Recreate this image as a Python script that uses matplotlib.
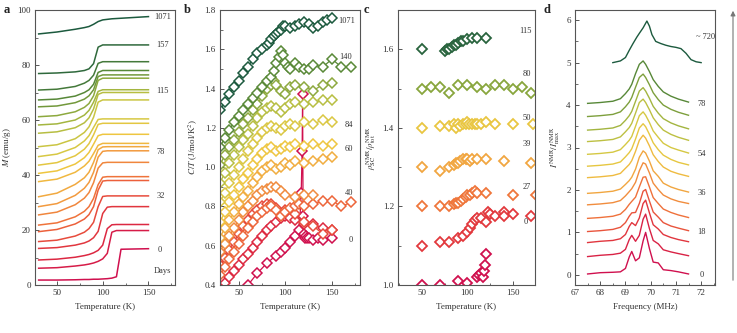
import numpy as np
import matplotlib
matplotlib.use('Agg')
import matplotlib.pyplot as plt
from matplotlib.colors import LinearSegmentedColormap
from matplotlib.patches import FancyArrowPatch
from matplotlib.ticker import AutoMinorLocator, MultipleLocator

plt.rcParams['font.family'] = ['Liberation Serif', 'DejaVu Serif']
plt.rcParams['mathtext.fontset'] = 'stix'
plt.rcParams['font.size'] = 6.5

# colour ramp: fresh sample (red) -> aged sample (dark green)
cmap = LinearSegmentedColormap.from_list('age', [
    (0.00, '#d0104e'), (0.12, '#e0303e'), (0.25, '#ee6a3a'), (0.38, '#f2a040'),
    (0.50, '#eec640'), (0.62, '#d0c844'), (0.74, '#a0b440'), (0.86, '#5a8a38'),
    (1.00, '#1c5a3e')])

# ---------------- panel a: magnetisation vs temperature ----------------
a_temps = [30, 50, 70, 80, 85, 90, 95, 100, 105, 110, 115, 120, 150]
a_curves = [
    [1.8, 1.8, 1.9, 2.0, 2.0, 2.1, 2.1, 2.2, 2.3, 2.5, 3.0, 13.0, 13.2],
    [6.1, 6.3, 6.9, 7.3, 7.6, 8.0, 8.6, 9.5, 11.5, 19.2, 19.8, 19.8, 19.8],
    [9.1, 9.4, 10.1, 10.7, 11.1, 11.7, 12.6, 14.5, 20.5, 21.9, 22.0, 22.0, 22.0],
    [13.3, 13.6, 14.5, 15.3, 16.0, 17.2, 19.5, 26.0, 28.3, 28.5, 28.5, 28.5, 28.5],
    [15.8, 16.3, 17.8, 19.2, 20.5, 22.8, 28.5, 32.2, 32.4, 32.4, 32.4, 32.4, 32.4],
    [19.4, 20.2, 22.2, 24.0, 25.6, 28.5, 34.5, 37.8, 38.0, 38.0, 38.0, 38.0, 38.0],
    [21.8, 22.6, 24.8, 26.8, 28.5, 31.5, 36.5, 39.2, 39.4, 39.4, 39.4, 39.4, 39.4],
    [25.5, 26.5, 29.2, 31.6, 33.6, 37.2, 42.5, 44.4, 44.6, 44.6, 44.6, 44.6, 44.6],
    [28.5, 29.6, 32.6, 35.2, 37.3, 41.0, 46.5, 48.6, 48.8, 48.8, 48.8, 48.8, 48.8],
    [32.1, 33.4, 36.6, 39.0, 41.0, 44.6, 49.2, 50.2, 50.3, 50.3, 50.3, 50.3, 50.3],
    [37.6, 38.5, 41.0, 43.3, 45.0, 47.8, 50.8, 51.5, 51.5, 51.5, 51.5, 51.5, 51.5],
    [40.6, 41.5, 44.0, 46.3, 48.2, 51.2, 54.3, 54.8, 54.8, 54.8, 54.8, 54.8, 54.8],
    [43.6, 44.5, 47.0, 49.4, 51.4, 54.6, 58.4, 58.8, 58.8, 58.8, 58.8, 58.8, 58.8],
    [46.7, 47.6, 50.0, 52.4, 54.3, 57.3, 60.2, 60.4, 60.4, 60.4, 60.4, 60.4, 60.4],
    [50.3, 51.0, 53.2, 55.5, 57.5, 61.0, 66.5, 67.3, 67.3, 67.3, 67.3, 67.3, 67.3],
    [55.2, 55.7, 57.2, 59.0, 60.8, 64.0, 69.3, 70.0, 70.0, 70.0, 70.0, 70.0, 70.0],
    [58.2, 58.6, 60.0, 61.8, 63.5, 66.5, 70.4, 71.0, 71.0, 71.0, 71.0, 71.0, 71.0],
    [61.2, 61.6, 63.0, 64.6, 66.0, 68.8, 74.4, 75.2, 75.2, 75.2, 75.2, 75.2, 75.2],
    [64.8, 65.1, 66.3, 67.6, 68.8, 71.0, 75.8, 76.4, 76.4, 76.4, 76.4, 76.4, 76.4],
    [67.3, 67.6, 68.7, 70.0, 71.0, 73.0, 77.3, 78.0, 78.0, 78.0, 78.0, 78.0, 78.0],
    [70.9, 71.2, 72.2, 73.4, 74.4, 76.3, 80.6, 81.2, 81.2, 81.2, 81.2, 81.2, 81.2],
    [76.9, 77.1, 77.5, 78.0, 78.6, 80.5, 86.5, 87.3, 87.3, 87.3, 87.3, 87.3, 87.3],
    [91.3, 92.0, 93.0, 93.6, 94.0, 94.8, 95.8, 96.4, 96.6, 96.8, 96.9, 97.0, 97.6],
]
a_labels = ['1071', '157', '115', '78', '32', '0', 'Days']
a_label_pos = [(156, 97.5), (158, 87.3), (159, 70.6), (159, 48.5), (159, 32.3), (160, 12.7), (156, 5.2)]

# ---------------- panel b: specific heat ----------------
b_temps = [
    [60, 70, 80, 90, 95, 100, 105, 110, 115, 117, 118, 118.5, 119, 120, 121, 122, 123, 125, 130, 135, 140, 150],
    [35, 40, 45, 50, 55, 60, 65, 70, 75, 80, 85, 90, 95, 100, 105, 110, 120, 130, 140, 150],
    [30, 35, 40, 45, 50, 55, 60, 65, 70, 75, 80, 85, 90, 95, 100, 110, 120, 130, 140, 150],
    [30, 35, 40, 45, 50, 55, 60, 65, 70, 75, 80, 85, 90, 95, 100, 105, 110, 115, 120, 130, 140, 150, 160, 170],
    [30, 35, 40, 45, 50, 55, 60, 65, 70, 75, 80, 85, 90, 95, 100, 110, 120, 130],
    [30, 35, 40, 45, 50, 55, 60, 65, 70, 75, 80, 85, 90, 95, 100, 105, 110, 120, 130, 140, 150],
    [30, 35, 40, 45, 50, 55, 60, 65, 70, 75, 80, 85, 90, 95, 100, 105, 110, 120, 130, 140, 150],
    [30, 35, 40, 45, 50, 55, 60, 65, 70, 75, 80, 85, 90, 95, 100, 105, 110, 120, 130, 140, 150],
    [30, 35, 40, 45, 50, 55, 60, 65, 70, 75, 80, 85, 90, 95, 100, 105, 110, 120, 130, 140, 150],
    [30, 35, 40, 45, 50, 55, 60, 65, 70, 75, 80, 85, 88, 90, 95, 100, 105, 110, 120, 130, 140, 150],
    [30, 35, 40, 45, 50, 55, 60, 65, 70, 75, 80, 85, 88, 90, 93, 95, 97, 100, 103, 105, 110, 115, 120, 125, 130, 140, 150, 160, 170],
    [30, 35, 40, 45, 50, 55, 60, 65, 70, 75, 80, 82, 85, 88, 90, 92, 95, 98, 100, 105, 110, 115, 120, 125, 130, 135, 140, 145, 150],
]
b_values = [
    [0.40, 0.46, 0.51, 0.55, 0.57, 0.59, 0.62, 0.65, 0.68, 0.87, 1.08, 1.37, 0.75, 0.66, 0.64, 0.65, 0.64, 0.64, 0.63, 0.64, 0.63, 0.64],
    [0.41, 0.44, 0.47, 0.50, 0.53, 0.56, 0.59, 0.62, 0.65, 0.68, 0.70, 0.72, 0.74, 0.75, 0.74, 0.73, 0.71, 0.71, 0.69, 0.68],
    [0.50, 0.54, 0.58, 0.62, 0.66, 0.70, 0.73, 0.76, 0.78, 0.80, 0.81, 0.81, 0.79, 0.76, 0.78, 0.76, 0.72, 0.70, 0.66, 0.68],
    [0.45, 0.49, 0.53, 0.57, 0.61, 0.65, 0.69, 0.72, 0.75, 0.77, 0.79, 0.80, 0.78, 0.75, 0.77, 0.79, 0.80, 0.81, 0.80, 0.81, 0.83, 0.83, 0.80, 0.82],
    [0.57, 0.61, 0.65, 0.69, 0.73, 0.77, 0.80, 0.83, 0.86, 0.88, 0.89, 0.90, 0.90, 0.88, 0.86, 0.85, 0.86, 0.86],
    [0.64, 0.69, 0.73, 0.77, 0.81, 0.85, 0.88, 0.92, 0.95, 0.98, 1.00, 1.01, 0.99, 1.00, 1.02, 1.01, 1.03, 1.02, 1.03, 1.04, 1.05],
    [0.72, 0.77, 0.82, 0.86, 0.90, 0.94, 0.97, 1.01, 1.04, 1.07, 1.09, 1.10, 1.08, 1.09, 1.11, 1.10, 1.12, 1.11, 1.12, 1.11, 1.12],
    [0.82, 0.87, 0.92, 0.96, 1.00, 1.04, 1.08, 1.12, 1.15, 1.18, 1.20, 1.21, 1.20, 1.19, 1.21, 1.22, 1.21, 1.23, 1.22, 1.24, 1.23],
    [0.92, 0.97, 1.02, 1.06, 1.10, 1.14, 1.17, 1.21, 1.25, 1.28, 1.30, 1.31, 1.30, 1.28, 1.30, 1.32, 1.33, 1.32, 1.33, 1.34, 1.34],
    [1.01, 1.06, 1.10, 1.14, 1.18, 1.22, 1.25, 1.29, 1.32, 1.36, 1.40, 1.42, 1.44, 1.42, 1.39, 1.37, 1.41, 1.42, 1.41, 1.39, 1.42, 1.43],
    [1.10, 1.15, 1.19, 1.23, 1.26, 1.29, 1.32, 1.35, 1.38, 1.41, 1.44, 1.46, 1.49, 1.53, 1.56, 1.59, 1.57, 1.53, 1.51, 1.50, 1.53, 1.51, 1.50, 1.50, 1.52, 1.51, 1.55, 1.51, 1.51],
    [1.29, 1.33, 1.37, 1.41, 1.44, 1.48, 1.51, 1.55, 1.58, 1.60, 1.62, 1.63, 1.65, 1.67, 1.68, 1.69, 1.70, 1.72, 1.72, 1.71, 1.72, 1.73, 1.74, 1.73, 1.71, 1.72, 1.74, 1.75, 1.76],
]
b_color_pos = [0.0, 0.1, 0.18, 0.24, 0.33, 0.42, 0.5, 0.58, 0.68, 0.77, 0.86, 1.0]
b_labels = ['1071', '140', '84', '60', '40', '0']
b_label_pos = [(157, 1.745), (158, 1.56), (164, 1.215), (164, 1.09), (164, 0.87), (168, 0.63)]

# ---------------- panel c: superconducting NMR fraction ----------------
c_temps = [
    [50, 70, 90, 100, 110, 113, 115, 117, 118, 119, 120],
    [50, 70, 80, 90, 95, 100, 103, 105, 108, 110, 115, 120, 122, 125, 130, 140, 140, 150, 170],
    [50, 70, 80, 85, 88, 90, 93, 95, 98, 100, 103, 105, 108, 110, 120, 150, 175],
    [50, 70, 80, 85, 88, 90, 92, 95, 98, 100, 103, 105, 110, 120, 140, 170],
    [50, 70, 80, 85, 88, 90, 92, 95, 98, 100, 102, 105, 108, 110, 115, 120, 130, 150, 172],
    [50, 60, 70, 80, 90, 100, 110, 120, 130, 140, 150, 160, 170],
    [50, 75, 78, 80, 83, 85, 88, 90, 93, 95, 100, 105, 110, 120],
]
c_values = [
    [1.000, 1.000, 1.010, 1.005, 1.020, 1.025, 1.030, 1.020, 1.035, 1.050, 1.080],
    [1.100, 1.110, 1.110, 1.120, 1.125, 1.135, 1.145, 1.155, 1.165, 1.170, 1.170, 1.160, 1.185, 1.180, 1.175, 1.185, 1.175, 1.180, 1.175],
    [1.200, 1.200, 1.200, 1.205, 1.210, 1.210, 1.215, 1.220, 1.225, 1.230, 1.230, 1.235, 1.240, 1.235, 1.235, 1.230, 1.230],
    [1.300, 1.290, 1.300, 1.305, 1.310, 1.310, 1.315, 1.320, 1.320, 1.320, 1.315, 1.320, 1.320, 1.320, 1.315, 1.310],
    [1.400, 1.405, 1.405, 1.410, 1.400, 1.410, 1.405, 1.410, 1.410, 1.415, 1.410, 1.410, 1.410, 1.410, 1.410, 1.415, 1.410, 1.410, 1.410],
    [1.500, 1.505, 1.505, 1.490, 1.510, 1.510, 1.505, 1.500, 1.510, 1.510, 1.500, 1.505, 1.490],
    [1.600, 1.595, 1.600, 1.600, 1.605, 1.610, 1.610, 1.615, 1.620, 1.620, 1.625, 1.630, 1.630, 1.630],
]
c_color_pos = [0.0, 0.14, 0.28, 0.40, 0.52, 0.78, 0.97]
c_labels = ['115', '80', '50', '39', '27', '0']
c_label_pos = [(157, 1.647), (160, 1.537), (160, 1.426), (160, 1.359), (160, 1.25), (161, 1.16)]

# ---------------- panel d: NMR spectra ----------------
d_freq = [67.5, 68.0, 68.5, 68.8, 69.0, 69.15, 69.25, 69.4, 69.55, 69.7, 69.8, 69.95, 70.1, 70.3, 70.5, 70.8, 71.1, 71.5]
d_offsets = [0.0, 0.43, 0.76, 1.02, 1.33, 1.65, 1.92, 2.29, 2.56, 2.84, 3.14, 3.41, 3.73, 4.04]
d_spectra = [
    [0.02, 0.05, 0.06, 0.07, 0.15, 0.42, 0.55, 0.33, 0.40, 0.80, 1.00, 0.62, 0.30, 0.28, 0.12, 0.10, 0.07, 0.02],
    [0.00, 0.03, 0.05, 0.08, 0.17, 0.40, 0.50, 0.36, 0.50, 0.88, 1.00, 0.66, 0.38, 0.30, 0.16, 0.11, 0.07, 0.02],
    [0.00, 0.03, 0.05, 0.09, 0.19, 0.38, 0.47, 0.40, 0.58, 0.92, 1.00, 0.70, 0.42, 0.32, 0.19, 0.12, 0.07, 0.02],
    [0.00, 0.02, 0.05, 0.10, 0.21, 0.36, 0.44, 0.45, 0.66, 0.95, 0.99, 0.72, 0.46, 0.34, 0.21, 0.13, 0.08, 0.02],
    [0.00, 0.02, 0.05, 0.10, 0.21, 0.33, 0.40, 0.50, 0.74, 0.97, 0.98, 0.74, 0.49, 0.35, 0.22, 0.14, 0.08, 0.02],
    [0.00, 0.02, 0.05, 0.10, 0.21, 0.31, 0.38, 0.53, 0.80, 0.99, 0.96, 0.75, 0.51, 0.36, 0.23, 0.14, 0.08, 0.03],
    [0.00, 0.02, 0.05, 0.10, 0.21, 0.30, 0.38, 0.57, 0.85, 1.00, 0.95, 0.76, 0.53, 0.40, 0.24, 0.15, 0.09, 0.03],
    [0.00, 0.02, 0.05, 0.10, 0.22, 0.31, 0.40, 0.62, 0.88, 1.00, 0.93, 0.75, 0.54, 0.38, 0.25, 0.15, 0.09, 0.03],
    [0.00, 0.02, 0.05, 0.10, 0.22, 0.32, 0.41, 0.64, 0.90, 1.00, 0.93, 0.75, 0.55, 0.39, 0.26, 0.16, 0.09, 0.03],
    [0.00, 0.02, 0.05, 0.11, 0.23, 0.33, 0.42, 0.66, 0.91, 1.00, 0.92, 0.75, 0.55, 0.40, 0.26, 0.16, 0.10, 0.03],
    [0.00, 0.02, 0.05, 0.11, 0.23, 0.33, 0.43, 0.67, 0.92, 1.00, 0.92, 0.75, 0.56, 0.40, 0.27, 0.17, 0.10, 0.03],
    [0.00, 0.02, 0.05, 0.11, 0.23, 0.34, 0.44, 0.68, 0.92, 1.00, 0.92, 0.75, 0.56, 0.40, 0.27, 0.17, 0.10, 0.03],
    [0.00, 0.02, 0.05, 0.11, 0.23, 0.34, 0.45, 0.69, 0.92, 1.00, 0.92, 0.75, 0.56, 0.40, 0.27, 0.17, 0.10, 0.03],
    [0.00, 0.02, 0.05, 0.11, 0.23, 0.34, 0.45, 0.70, 0.92, 1.00, 0.92, 0.75, 0.56, 0.40, 0.27, 0.17, 0.10, 0.03],
]
d_top_freq = [68.5, 68.8, 69.0, 69.15, 69.3, 69.45, 69.55, 69.7, 69.85, 69.95, 70.05, 70.2, 70.4, 70.6, 70.8, 71.0, 71.2, 71.4, 71.6, 71.8, 72.0]
d_top_spec = [0.0, 0.04, 0.12, 0.29, 0.45, 0.60, 0.69, 0.82, 0.98, 0.86, 0.66, 0.50, 0.45, 0.41, 0.38, 0.36, 0.33, 0.22, 0.07, 0.02, 0.0]
d_top_offset = 5.0
d_labels = ['~ 720', '78', '54', '36', '18', '0']
d_label_pos = [(71.8, 5.6), (71.85, 4.02), (71.85, 2.84), (71.85, 1.92), (71.85, 1.02), (71.95, 0.0)]

text_col = '#333333'
fig = plt.figure(figsize=(7.37, 3.33), dpi=100)
bot, h = 48 / 333, 275 / 333
ax_a = fig.add_axes([35 / 737, bot, 140 / 737, h])
ax_b = fig.add_axes([220 / 737, bot, 140 / 737, h])
ax_c = fig.add_axes([398 / 737, bot, 137 / 737, h])
ax_d = fig.add_axes([575 / 737, bot, 140 / 737, h])

for ax in (ax_a, ax_b, ax_c, ax_d):
    for s in ax.spines.values():
        s.set_color('#555555')
        s.set_linewidth(0.8)
    ax.tick_params(which='both', direction='in', top=False, right=False, colors='#555555',
                   labelcolor=text_col, labelsize=6.5, pad=3)
    ax.tick_params(which='major', length=3, width=0.7)
    ax.tick_params(which='minor', length=1.8, width=0.6)
    ax.xaxis.set_minor_locator(AutoMinorLocator(2))
    ax.yaxis.set_minor_locator(AutoMinorLocator(2))

# a
n_a = len(a_curves)
for i, m in enumerate(a_curves):
    ax_a.plot(a_temps, m, color=cmap(i / (n_a - 1)), lw=1.1)
for lab, (x, y) in zip(a_labels, a_label_pos):
    ax_a.text(x, y, lab, fontsize=6, color=text_col, va='center', ha='left')
ax_a.set_xlim(26, 179)
ax_a.set_ylim(0, 100)
ax_a.xaxis.set_major_locator(MultipleLocator(50))
ax_a.yaxis.set_major_locator(MultipleLocator(20))
ax_a.set_xlabel('Temperature (K)', color=text_col)
ax_a.set_ylabel(r'$M$ (emu/g)', color=text_col, labelpad=3)

# b
for t, v, p in zip(b_temps, b_values, b_color_pos):
    col = cmap(p)
    ax_b.plot(t, v, color=col, lw=0.9, marker='D', ms=4.8, mfc='white', mec=col, mew=1.1)
for lab, (x, y) in zip(b_labels, b_label_pos):
    ax_b.text(x, y, lab, fontsize=6, color=text_col, va='center', ha='left')
ax_b.set_xlim(30, 180)
ax_b.set_ylim(0.4, 1.8)
ax_b.xaxis.set_major_locator(MultipleLocator(50))
ax_b.yaxis.set_major_locator(MultipleLocator(0.2))
ax_b.set_xlabel('Temperature (K)', color=text_col)
ax_b.set_ylabel(r'$C/T$ (J/mol/K$^2$)', color=text_col, labelpad=3)

# c
for t, v, p in zip(c_temps, c_values, c_color_pos):
    col = cmap(p)
    ax_c.plot(t, v, ls='none', marker='D', ms=5, mfc='white', mec=col, mew=1.3)
for lab, (x, y) in zip(c_labels, c_label_pos):
    ax_c.text(x, y, lab, fontsize=6, color=text_col, va='center', ha='left')
ax_c.set_xlim(24, 174)
ax_c.set_ylim(1.0, 1.7)
ax_c.xaxis.set_major_locator(MultipleLocator(50))
ax_c.yaxis.set_major_locator(MultipleLocator(0.2))
ax_c.set_xlabel('Temperature (K)', color=text_col)
ax_c.set_ylabel(r'$\rho^{\rm NMR}_{\rm SC}/\rho^{\rm NMR}_{\rm tot}$', color=text_col, labelpad=3)

# d
n_d = len(d_spectra)
for i, (s, off) in enumerate(zip(d_spectra, d_offsets)):
    ax_d.plot(d_freq, np.array(s) + off, color=cmap(i / n_d * 0.93), lw=1.0)
ax_d.plot(d_top_freq, np.array(d_top_spec) + d_top_offset, color=cmap(1.0), lw=1.0)
for lab, (x, y) in zip(d_labels, d_label_pos):
    ax_d.text(x, y, lab, fontsize=6, color=text_col, va='center', ha='left')
ax_d.set_xlim(67, 72.55)
ax_d.set_ylim(-0.24, 6.24)
ax_d.xaxis.set_major_locator(MultipleLocator(1))
ax_d.yaxis.set_major_locator(MultipleLocator(1))
ax_d.set_xlabel('Frequency (MHz)', color=text_col)
ax_d.set_ylabel(r'$I^{\rm NMR}/I^{\rm NMR}_{\rm max}$', color=text_col, labelpad=3)

# ageing arrow on the far right
fig.add_artist(FancyArrowPatch((733 / 737, 50 / 333), (733 / 737, 325 / 333),
                               transform=fig.transFigure, arrowstyle='-|>',
                               mutation_scale=7, color='#777777', lw=0.8))

for lab, xp in zip('abcd', [4, 184, 364, 544]):
    fig.text(xp / 737, 1 - 10 / 333, lab, fontsize=9, fontweight='bold', color='#222222',
             va='center', ha='left')

fig.savefig('out.png', dpi=100)
